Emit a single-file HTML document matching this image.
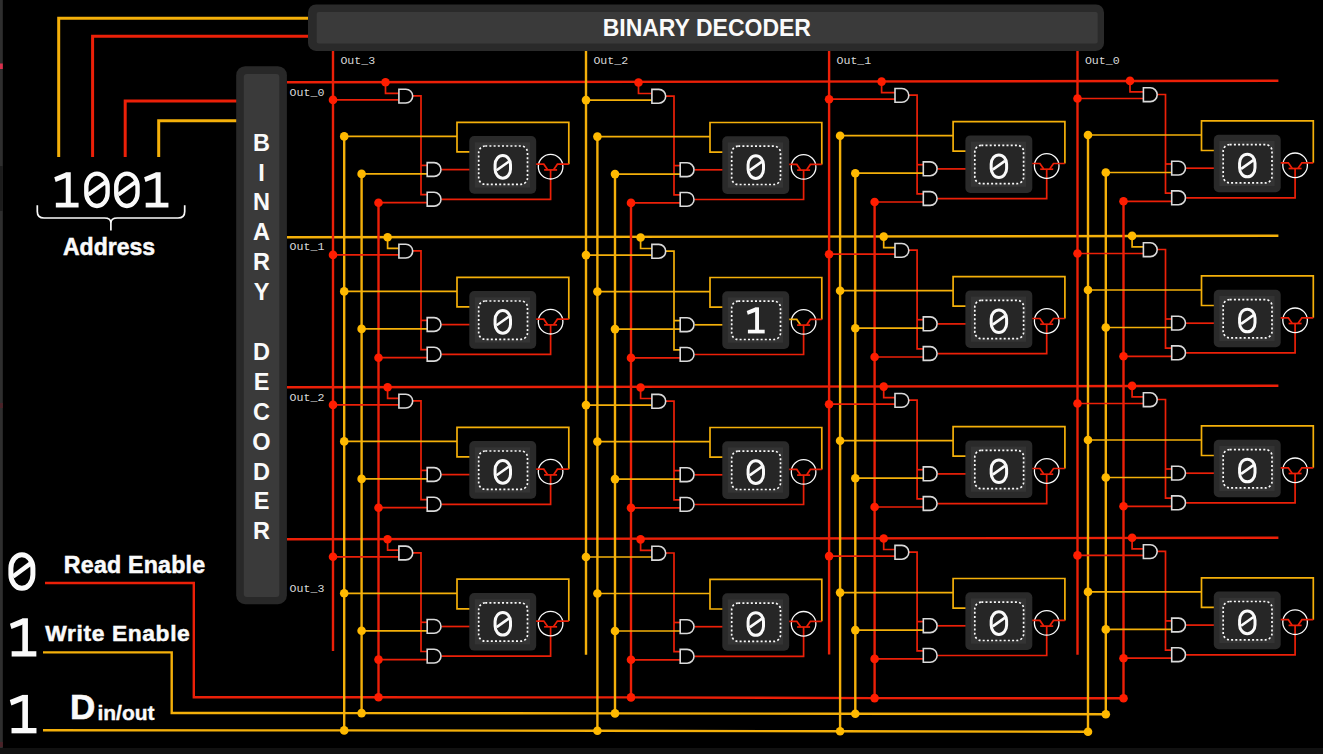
<!DOCTYPE html>
<html><head><meta charset="utf-8"><style>
html,body{margin:0;padding:0;background:#000;width:1323px;height:754px;overflow:hidden}
svg{display:block}

</style></head><body>
<svg width="1323" height="754" viewBox="0 0 1323 754">
<rect width="1323" height="754" fill="#000"/>
<rect x="0" y="0" width="2.8" height="754" fill="#2e2e2e"/>
<rect x="0" y="166" width="2.8" height="45" fill="#1c1c1c"/>
<rect x="0" y="63.5" width="2.8" height="5.5" fill="#d8304c"/>
<rect x="0" y="403" width="2.8" height="5" fill="#4a2228"/>
<rect x="0" y="742" width="2.8" height="5" fill="#4a2228"/>
<rect x="0" y="748" width="1323" height="6" fill="#111"/>
<path d="M58.70,157.00 L58.70,18.30 L310.00,18.30" fill="none" stroke="#f4b00a" stroke-width="3.0" stroke-linejoin="miter" stroke-linecap="butt"/>
<path d="M92.60,157.00 L92.60,36.20 L310.00,36.20" fill="none" stroke="#ec2008" stroke-width="3.0" stroke-linejoin="miter" stroke-linecap="butt"/>
<path d="M125.20,157.00 L125.20,101.00 L238.00,101.00" fill="none" stroke="#ec2008" stroke-width="3.0" stroke-linejoin="miter" stroke-linecap="butt"/>
<path d="M158.70,157.00 L158.70,120.70 L238.00,120.70" fill="none" stroke="#f4b00a" stroke-width="3.0" stroke-linejoin="miter" stroke-linecap="butt"/>
<path d="M45.00,583.00 L193.80,583.00 L193.80,697.20 L378.50,697.30 L631.00,697.40 L874.60,698.10 L1123.50,698.30" fill="none" stroke="#ec2008" stroke-width="2.4" stroke-linejoin="miter" stroke-linecap="butt"/>
<path d="M43.00,652.40 L171.70,652.40 L171.70,713.00 L361.60,713.10 L615.00,713.40 L855.30,713.80 L1105.80,714.20" fill="none" stroke="#f4b00a" stroke-width="2.4" stroke-linejoin="miter" stroke-linecap="butt"/>
<path d="M43.00,730.30 L344.20,730.40 L597.40,730.80 L840.10,731.30 L1088.00,731.70" fill="none" stroke="#f4b00a" stroke-width="2.4" stroke-linejoin="miter" stroke-linecap="butt"/>
<path d="M287.00,82.30 L1278.40,80.80" fill="none" stroke="#ec2008" stroke-width="2.4" stroke-linejoin="miter" stroke-linecap="butt"/>
<path d="M287.00,237.30 L1278.40,235.80" fill="none" stroke="#f4b00a" stroke-width="2.4" stroke-linejoin="miter" stroke-linecap="butt"/>
<path d="M287.00,387.30 L1278.40,385.80" fill="none" stroke="#ec2008" stroke-width="2.4" stroke-linejoin="miter" stroke-linecap="butt"/>
<path d="M287.00,539.20 L1278.40,537.70" fill="none" stroke="#ec2008" stroke-width="2.4" stroke-linejoin="miter" stroke-linecap="butt"/>
<path d="M333.00,51.00 L333.00,651.00" fill="none" stroke="#ec2008" stroke-width="2.4" stroke-linejoin="miter" stroke-linecap="butt"/>
<path d="M344.20,136.40 L344.20,730.40" fill="none" stroke="#f4b00a" stroke-width="2.4" stroke-linejoin="miter" stroke-linecap="butt"/>
<path d="M361.60,173.90 L361.60,713.10" fill="none" stroke="#f4b00a" stroke-width="2.4" stroke-linejoin="miter" stroke-linecap="butt"/>
<path d="M378.50,202.70 L378.50,697.30" fill="none" stroke="#ec2008" stroke-width="2.4" stroke-linejoin="miter" stroke-linecap="butt"/>
<circle cx="344.20" cy="730.40" r="4.3" fill="#ffb900"/>
<circle cx="361.60" cy="713.10" r="4.3" fill="#ffb900"/>
<circle cx="378.50" cy="697.30" r="4.3" fill="#ff1d00"/>
<path d="M586.00,51.00 L586.00,654.80" fill="none" stroke="#f4b00a" stroke-width="2.4" stroke-linejoin="miter" stroke-linecap="butt"/>
<path d="M597.40,136.60 L597.40,730.80" fill="none" stroke="#f4b00a" stroke-width="2.4" stroke-linejoin="miter" stroke-linecap="butt"/>
<path d="M615.00,174.10 L615.00,713.40" fill="none" stroke="#f4b00a" stroke-width="2.4" stroke-linejoin="miter" stroke-linecap="butt"/>
<path d="M631.00,202.90 L631.00,697.40" fill="none" stroke="#ec2008" stroke-width="2.4" stroke-linejoin="miter" stroke-linecap="butt"/>
<circle cx="597.40" cy="730.80" r="4.3" fill="#ffb900"/>
<circle cx="615.00" cy="713.40" r="4.3" fill="#ffb900"/>
<circle cx="631.00" cy="697.40" r="4.3" fill="#ff1d00"/>
<path d="M829.10,51.00 L829.10,654.50" fill="none" stroke="#ec2008" stroke-width="2.4" stroke-linejoin="miter" stroke-linecap="butt"/>
<path d="M840.10,135.70 L840.10,731.30" fill="none" stroke="#f4b00a" stroke-width="2.4" stroke-linejoin="miter" stroke-linecap="butt"/>
<path d="M855.30,173.20 L855.30,713.80" fill="none" stroke="#f4b00a" stroke-width="2.4" stroke-linejoin="miter" stroke-linecap="butt"/>
<path d="M874.60,202.00 L874.60,698.10" fill="none" stroke="#ec2008" stroke-width="2.4" stroke-linejoin="miter" stroke-linecap="butt"/>
<circle cx="840.10" cy="731.30" r="4.3" fill="#ffb900"/>
<circle cx="855.30" cy="713.80" r="4.3" fill="#ffb900"/>
<circle cx="874.60" cy="698.10" r="4.3" fill="#ff1d00"/>
<path d="M1077.50,51.00 L1077.50,654.70" fill="none" stroke="#ec2008" stroke-width="2.4" stroke-linejoin="miter" stroke-linecap="butt"/>
<path d="M1088.00,135.00 L1088.00,731.70" fill="none" stroke="#f4b00a" stroke-width="2.4" stroke-linejoin="miter" stroke-linecap="butt"/>
<path d="M1105.80,172.50 L1105.80,714.20" fill="none" stroke="#f4b00a" stroke-width="2.4" stroke-linejoin="miter" stroke-linecap="butt"/>
<path d="M1123.50,201.30 L1123.50,698.30" fill="none" stroke="#ec2008" stroke-width="2.4" stroke-linejoin="miter" stroke-linecap="butt"/>
<circle cx="1088.00" cy="731.70" r="4.3" fill="#ffb900"/>
<circle cx="1105.80" cy="714.20" r="4.3" fill="#ffb900"/>
<circle cx="1123.50" cy="698.30" r="4.3" fill="#ff1d00"/>
<path d="M385.50,82.30 L385.50,93.30 L398.90,93.30" fill="none" stroke="#ec2008" stroke-width="1.7" stroke-linejoin="miter" stroke-linecap="butt"/>
<path d="M333.00,99.90 L398.90,99.90" fill="none" stroke="#ec2008" stroke-width="1.7" stroke-linejoin="miter" stroke-linecap="butt"/>
<path d="M412.80,95.90 L421.00,95.90 L421.00,194.60 L427.20,194.60" fill="none" stroke="#ec2008" stroke-width="1.7" stroke-linejoin="miter" stroke-linecap="butt"/>
<path d="M421.00,165.40 L427.20,165.40" fill="none" stroke="#ec2008" stroke-width="1.7" stroke-linejoin="miter" stroke-linecap="butt"/>
<path d="M361.60,173.90 L427.20,173.90" fill="none" stroke="#f4b00a" stroke-width="1.7" stroke-linejoin="miter" stroke-linecap="butt"/>
<path d="M378.50,202.70 L427.20,202.70" fill="none" stroke="#ec2008" stroke-width="1.7" stroke-linejoin="miter" stroke-linecap="butt"/>
<path d="M441.70,169.60 L470.00,169.60" fill="none" stroke="#ec2008" stroke-width="1.7" stroke-linejoin="miter" stroke-linecap="butt"/>
<path d="M441.70,199.30 L550.60,199.30 L550.60,169.90" fill="none" stroke="#ec2008" stroke-width="1.7" stroke-linejoin="miter" stroke-linecap="butt"/>
<path d="M344.20,136.40 L457.00,136.40" fill="none" stroke="#f4b00a" stroke-width="1.7" stroke-linejoin="miter" stroke-linecap="butt"/>
<path d="M470.00,151.90 L457.00,151.90 L457.00,122.30 L568.80,122.30 L568.80,164.20" fill="none" stroke="#f4b00a" stroke-width="1.7" stroke-linejoin="miter" stroke-linecap="butt"/>
<rect x="469.30" y="136.10" width="66.9" height="57.6" rx="5" fill="#2a2a2a"/>
<rect x="474.80" y="142.30" width="55.2" height="45.2" fill="#343434"/>
<rect x="478.70" y="146.00" width="48.8" height="38.3" rx="6.5" fill="#262626" stroke="#fafafa" stroke-width="1.7" stroke-dasharray="2 2.2"/>
<rect x="495.08" y="155.60" width="15.43" height="22.60" rx="7.72" ry="9.04" fill="none" stroke="#fafafa" stroke-width="3.0"/>
<path d="M496.63,170.23 L508.97,161.52" stroke="#fafafa" stroke-width="2.70"/>
<circle cx="550.60" cy="166.70" r="12.3" fill="none" stroke="#fafafa" stroke-width="1.3"/>
<path d="M536.20,164.20 L543.80,164.20 L547.60,169.70" fill="none" stroke="#ec2008" stroke-width="1.7" stroke-linejoin="miter" stroke-linecap="butt"/>
<path d="M544.10,169.90 L557.10,169.90" fill="none" stroke="#ec2008" stroke-width="1.7" stroke-linejoin="miter" stroke-linecap="butt"/>
<path d="M553.60,169.70 L557.40,164.20 L568.80,164.20" fill="none" stroke="#ec2008" stroke-width="1.7" stroke-linejoin="miter" stroke-linecap="butt"/>
<circle cx="333.00" cy="99.90" r="4.3" fill="#ff1d00"/>
<circle cx="385.50" cy="82.30" r="4.3" fill="#ff1d00"/>
<circle cx="344.20" cy="136.40" r="4.3" fill="#ffb900"/>
<circle cx="361.60" cy="173.90" r="4.3" fill="#ffb900"/>
<circle cx="378.50" cy="202.70" r="4.3" fill="#ff1d00"/>
<path d="M398.90,89.20 H405.80 A6.9,6.9 0 0 1 405.80,103.00 H398.90 Z" fill="#000" stroke="#dadada" stroke-width="1.6"/>
<path d="M427.20,162.60 H434.10 A6.9,6.9 0 0 1 434.10,176.40 H427.20 Z" fill="#000" stroke="#dadada" stroke-width="1.6"/>
<path d="M427.20,192.30 H434.10 A6.9,6.9 0 0 1 434.10,206.10 H427.20 Z" fill="#000" stroke="#dadada" stroke-width="1.6"/>
<path d="M638.50,82.50 L638.50,93.50 L651.90,93.50" fill="none" stroke="#ec2008" stroke-width="1.7" stroke-linejoin="miter" stroke-linecap="butt"/>
<path d="M586.00,100.10 L651.90,100.10" fill="none" stroke="#f4b00a" stroke-width="1.7" stroke-linejoin="miter" stroke-linecap="butt"/>
<path d="M665.80,96.10 L674.00,96.10 L674.00,194.80 L680.20,194.80" fill="none" stroke="#ec2008" stroke-width="1.7" stroke-linejoin="miter" stroke-linecap="butt"/>
<path d="M674.00,165.60 L680.20,165.60" fill="none" stroke="#ec2008" stroke-width="1.7" stroke-linejoin="miter" stroke-linecap="butt"/>
<path d="M615.00,174.10 L680.20,174.10" fill="none" stroke="#f4b00a" stroke-width="1.7" stroke-linejoin="miter" stroke-linecap="butt"/>
<path d="M631.00,202.90 L680.20,202.90" fill="none" stroke="#ec2008" stroke-width="1.7" stroke-linejoin="miter" stroke-linecap="butt"/>
<path d="M694.70,169.80 L723.00,169.80" fill="none" stroke="#ec2008" stroke-width="1.7" stroke-linejoin="miter" stroke-linecap="butt"/>
<path d="M694.70,199.50 L803.60,199.50 L803.60,170.10" fill="none" stroke="#ec2008" stroke-width="1.7" stroke-linejoin="miter" stroke-linecap="butt"/>
<path d="M597.40,136.60 L710.00,136.60" fill="none" stroke="#f4b00a" stroke-width="1.7" stroke-linejoin="miter" stroke-linecap="butt"/>
<path d="M723.00,152.10 L710.00,152.10 L710.00,122.50 L821.80,122.50 L821.80,164.40" fill="none" stroke="#f4b00a" stroke-width="1.7" stroke-linejoin="miter" stroke-linecap="butt"/>
<rect x="722.30" y="136.30" width="66.9" height="57.6" rx="5" fill="#2a2a2a"/>
<rect x="727.80" y="142.50" width="55.2" height="45.2" fill="#343434"/>
<rect x="731.70" y="146.20" width="48.8" height="38.3" rx="6.5" fill="#262626" stroke="#fafafa" stroke-width="1.7" stroke-dasharray="2 2.2"/>
<rect x="748.08" y="155.80" width="15.43" height="22.60" rx="7.72" ry="9.04" fill="none" stroke="#fafafa" stroke-width="3.0"/>
<path d="M749.63,170.43 L761.97,161.72" stroke="#fafafa" stroke-width="2.70"/>
<circle cx="803.60" cy="166.90" r="12.3" fill="none" stroke="#fafafa" stroke-width="1.3"/>
<path d="M789.20,164.40 L796.80,164.40 L800.60,169.90" fill="none" stroke="#ec2008" stroke-width="1.7" stroke-linejoin="miter" stroke-linecap="butt"/>
<path d="M797.10,170.10 L810.10,170.10" fill="none" stroke="#ec2008" stroke-width="1.7" stroke-linejoin="miter" stroke-linecap="butt"/>
<path d="M806.60,169.90 L810.40,164.40 L821.80,164.40" fill="none" stroke="#ec2008" stroke-width="1.7" stroke-linejoin="miter" stroke-linecap="butt"/>
<circle cx="586.00" cy="100.10" r="4.3" fill="#ffb900"/>
<circle cx="638.50" cy="82.50" r="4.3" fill="#ff1d00"/>
<circle cx="597.40" cy="136.60" r="4.3" fill="#ffb900"/>
<circle cx="615.00" cy="174.10" r="4.3" fill="#ffb900"/>
<circle cx="631.00" cy="202.90" r="4.3" fill="#ff1d00"/>
<path d="M651.90,89.40 H658.80 A6.9,6.9 0 0 1 658.80,103.20 H651.90 Z" fill="#000" stroke="#dadada" stroke-width="1.6"/>
<path d="M680.20,162.80 H687.10 A6.9,6.9 0 0 1 687.10,176.60 H680.20 Z" fill="#000" stroke="#dadada" stroke-width="1.6"/>
<path d="M680.20,192.50 H687.10 A6.9,6.9 0 0 1 687.10,206.30 H680.20 Z" fill="#000" stroke="#dadada" stroke-width="1.6"/>
<path d="M881.60,81.60 L881.60,92.60 L895.00,92.60" fill="none" stroke="#ec2008" stroke-width="1.7" stroke-linejoin="miter" stroke-linecap="butt"/>
<path d="M829.10,99.20 L895.00,99.20" fill="none" stroke="#ec2008" stroke-width="1.7" stroke-linejoin="miter" stroke-linecap="butt"/>
<path d="M908.90,95.20 L917.10,95.20 L917.10,193.90 L923.30,193.90" fill="none" stroke="#ec2008" stroke-width="1.7" stroke-linejoin="miter" stroke-linecap="butt"/>
<path d="M917.10,164.70 L923.30,164.70" fill="none" stroke="#ec2008" stroke-width="1.7" stroke-linejoin="miter" stroke-linecap="butt"/>
<path d="M855.30,173.20 L923.30,173.20" fill="none" stroke="#f4b00a" stroke-width="1.7" stroke-linejoin="miter" stroke-linecap="butt"/>
<path d="M874.60,202.00 L923.30,202.00" fill="none" stroke="#ec2008" stroke-width="1.7" stroke-linejoin="miter" stroke-linecap="butt"/>
<path d="M937.80,168.90 L966.10,168.90" fill="none" stroke="#ec2008" stroke-width="1.7" stroke-linejoin="miter" stroke-linecap="butt"/>
<path d="M937.80,198.60 L1046.70,198.60 L1046.70,169.20" fill="none" stroke="#ec2008" stroke-width="1.7" stroke-linejoin="miter" stroke-linecap="butt"/>
<path d="M840.10,135.70 L953.10,135.70" fill="none" stroke="#f4b00a" stroke-width="1.7" stroke-linejoin="miter" stroke-linecap="butt"/>
<path d="M966.10,151.20 L953.10,151.20 L953.10,121.60 L1064.90,121.60 L1064.90,163.50" fill="none" stroke="#f4b00a" stroke-width="1.7" stroke-linejoin="miter" stroke-linecap="butt"/>
<rect x="965.40" y="135.40" width="66.9" height="57.6" rx="5" fill="#2a2a2a"/>
<rect x="970.90" y="141.60" width="55.2" height="45.2" fill="#343434"/>
<rect x="974.80" y="145.30" width="48.8" height="38.3" rx="6.5" fill="#262626" stroke="#fafafa" stroke-width="1.7" stroke-dasharray="2 2.2"/>
<rect x="991.18" y="154.90" width="15.43" height="22.60" rx="7.72" ry="9.04" fill="none" stroke="#fafafa" stroke-width="3.0"/>
<path d="M992.73,169.53 L1005.07,160.82" stroke="#fafafa" stroke-width="2.70"/>
<circle cx="1046.70" cy="166.00" r="12.3" fill="none" stroke="#fafafa" stroke-width="1.3"/>
<path d="M1032.30,163.50 L1039.90,163.50 L1043.70,169.00" fill="none" stroke="#ec2008" stroke-width="1.7" stroke-linejoin="miter" stroke-linecap="butt"/>
<path d="M1040.20,169.20 L1053.20,169.20" fill="none" stroke="#ec2008" stroke-width="1.7" stroke-linejoin="miter" stroke-linecap="butt"/>
<path d="M1049.70,169.00 L1053.50,163.50 L1064.90,163.50" fill="none" stroke="#ec2008" stroke-width="1.7" stroke-linejoin="miter" stroke-linecap="butt"/>
<circle cx="829.10" cy="99.20" r="4.3" fill="#ff1d00"/>
<circle cx="881.60" cy="81.60" r="4.3" fill="#ff1d00"/>
<circle cx="840.10" cy="135.70" r="4.3" fill="#ffb900"/>
<circle cx="855.30" cy="173.20" r="4.3" fill="#ffb900"/>
<circle cx="874.60" cy="202.00" r="4.3" fill="#ff1d00"/>
<path d="M895.00,88.50 H901.90 A6.9,6.9 0 0 1 901.90,102.30 H895.00 Z" fill="#000" stroke="#dadada" stroke-width="1.6"/>
<path d="M923.30,161.90 H930.20 A6.9,6.9 0 0 1 930.20,175.70 H923.30 Z" fill="#000" stroke="#dadada" stroke-width="1.6"/>
<path d="M923.30,191.60 H930.20 A6.9,6.9 0 0 1 930.20,205.40 H923.30 Z" fill="#000" stroke="#dadada" stroke-width="1.6"/>
<path d="M1130.00,80.90 L1130.00,91.90 L1143.40,91.90" fill="none" stroke="#ec2008" stroke-width="1.7" stroke-linejoin="miter" stroke-linecap="butt"/>
<path d="M1077.50,98.50 L1143.40,98.50" fill="none" stroke="#ec2008" stroke-width="1.7" stroke-linejoin="miter" stroke-linecap="butt"/>
<path d="M1157.30,94.50 L1165.50,94.50 L1165.50,193.20 L1171.70,193.20" fill="none" stroke="#ec2008" stroke-width="1.7" stroke-linejoin="miter" stroke-linecap="butt"/>
<path d="M1165.50,164.00 L1171.70,164.00" fill="none" stroke="#ec2008" stroke-width="1.7" stroke-linejoin="miter" stroke-linecap="butt"/>
<path d="M1105.80,172.50 L1171.70,172.50" fill="none" stroke="#f4b00a" stroke-width="1.7" stroke-linejoin="miter" stroke-linecap="butt"/>
<path d="M1123.50,201.30 L1171.70,201.30" fill="none" stroke="#ec2008" stroke-width="1.7" stroke-linejoin="miter" stroke-linecap="butt"/>
<path d="M1186.20,168.20 L1214.50,168.20" fill="none" stroke="#ec2008" stroke-width="1.7" stroke-linejoin="miter" stroke-linecap="butt"/>
<path d="M1186.20,197.90 L1295.10,197.90 L1295.10,168.50" fill="none" stroke="#ec2008" stroke-width="1.7" stroke-linejoin="miter" stroke-linecap="butt"/>
<path d="M1088.00,135.00 L1201.50,135.00" fill="none" stroke="#f4b00a" stroke-width="1.7" stroke-linejoin="miter" stroke-linecap="butt"/>
<path d="M1214.50,150.50 L1201.50,150.50 L1201.50,120.90 L1313.30,120.90 L1313.30,162.80" fill="none" stroke="#f4b00a" stroke-width="1.7" stroke-linejoin="miter" stroke-linecap="butt"/>
<rect x="1213.80" y="134.70" width="66.9" height="57.6" rx="5" fill="#2a2a2a"/>
<rect x="1219.30" y="140.90" width="55.2" height="45.2" fill="#343434"/>
<rect x="1223.20" y="144.60" width="48.8" height="38.3" rx="6.5" fill="#262626" stroke="#fafafa" stroke-width="1.7" stroke-dasharray="2 2.2"/>
<rect x="1239.58" y="154.20" width="15.43" height="22.60" rx="7.72" ry="9.04" fill="none" stroke="#fafafa" stroke-width="3.0"/>
<path d="M1241.13,168.83 L1253.47,160.12" stroke="#fafafa" stroke-width="2.70"/>
<circle cx="1295.10" cy="165.30" r="12.3" fill="none" stroke="#fafafa" stroke-width="1.3"/>
<path d="M1280.70,162.80 L1288.30,162.80 L1292.10,168.30" fill="none" stroke="#ec2008" stroke-width="1.7" stroke-linejoin="miter" stroke-linecap="butt"/>
<path d="M1288.60,168.50 L1301.60,168.50" fill="none" stroke="#ec2008" stroke-width="1.7" stroke-linejoin="miter" stroke-linecap="butt"/>
<path d="M1298.10,168.30 L1301.90,162.80 L1313.30,162.80" fill="none" stroke="#ec2008" stroke-width="1.7" stroke-linejoin="miter" stroke-linecap="butt"/>
<circle cx="1077.50" cy="98.50" r="4.3" fill="#ff1d00"/>
<circle cx="1130.00" cy="80.90" r="4.3" fill="#ff1d00"/>
<circle cx="1088.00" cy="135.00" r="4.3" fill="#ffb900"/>
<circle cx="1105.80" cy="172.50" r="4.3" fill="#ffb900"/>
<circle cx="1123.50" cy="201.30" r="4.3" fill="#ff1d00"/>
<path d="M1143.40,87.80 H1150.30 A6.9,6.9 0 0 1 1150.30,101.60 H1143.40 Z" fill="#000" stroke="#dadada" stroke-width="1.6"/>
<path d="M1171.70,161.20 H1178.60 A6.9,6.9 0 0 1 1178.60,175.00 H1171.70 Z" fill="#000" stroke="#dadada" stroke-width="1.6"/>
<path d="M1171.70,190.90 H1178.60 A6.9,6.9 0 0 1 1178.60,204.70 H1171.70 Z" fill="#000" stroke="#dadada" stroke-width="1.6"/>
<path d="M387.60,237.30 L387.60,248.30 L398.90,248.30" fill="none" stroke="#f4b00a" stroke-width="1.7" stroke-linejoin="miter" stroke-linecap="butt"/>
<path d="M333.00,254.90 L398.90,254.90" fill="none" stroke="#ec2008" stroke-width="1.7" stroke-linejoin="miter" stroke-linecap="butt"/>
<path d="M412.80,250.90 L421.00,250.90 L421.00,349.60 L427.20,349.60" fill="none" stroke="#ec2008" stroke-width="1.7" stroke-linejoin="miter" stroke-linecap="butt"/>
<path d="M421.00,320.40 L427.20,320.40" fill="none" stroke="#ec2008" stroke-width="1.7" stroke-linejoin="miter" stroke-linecap="butt"/>
<path d="M361.60,328.90 L427.20,328.90" fill="none" stroke="#f4b00a" stroke-width="1.7" stroke-linejoin="miter" stroke-linecap="butt"/>
<path d="M378.50,357.70 L427.20,357.70" fill="none" stroke="#ec2008" stroke-width="1.7" stroke-linejoin="miter" stroke-linecap="butt"/>
<path d="M441.70,324.60 L470.00,324.60" fill="none" stroke="#ec2008" stroke-width="1.7" stroke-linejoin="miter" stroke-linecap="butt"/>
<path d="M441.70,354.30 L550.60,354.30 L550.60,324.90" fill="none" stroke="#ec2008" stroke-width="1.7" stroke-linejoin="miter" stroke-linecap="butt"/>
<path d="M344.20,291.40 L457.00,291.40" fill="none" stroke="#f4b00a" stroke-width="1.7" stroke-linejoin="miter" stroke-linecap="butt"/>
<path d="M470.00,306.90 L457.00,306.90 L457.00,277.30 L568.80,277.30 L568.80,319.20" fill="none" stroke="#f4b00a" stroke-width="1.7" stroke-linejoin="miter" stroke-linecap="butt"/>
<rect x="469.30" y="291.10" width="66.9" height="57.6" rx="5" fill="#2a2a2a"/>
<rect x="474.80" y="297.30" width="55.2" height="45.2" fill="#343434"/>
<rect x="478.70" y="301.00" width="48.8" height="38.3" rx="6.5" fill="#262626" stroke="#fafafa" stroke-width="1.7" stroke-dasharray="2 2.2"/>
<rect x="495.08" y="310.60" width="15.43" height="22.60" rx="7.72" ry="9.04" fill="none" stroke="#fafafa" stroke-width="3.0"/>
<path d="M496.63,325.23 L508.97,316.52" stroke="#fafafa" stroke-width="2.70"/>
<circle cx="550.60" cy="321.70" r="12.3" fill="none" stroke="#fafafa" stroke-width="1.3"/>
<path d="M536.20,319.20 L543.80,319.20 L547.60,324.70" fill="none" stroke="#ec2008" stroke-width="1.7" stroke-linejoin="miter" stroke-linecap="butt"/>
<path d="M544.10,324.90 L557.10,324.90" fill="none" stroke="#ec2008" stroke-width="1.7" stroke-linejoin="miter" stroke-linecap="butt"/>
<path d="M553.60,324.70 L557.40,319.20 L568.80,319.20" fill="none" stroke="#ec2008" stroke-width="1.7" stroke-linejoin="miter" stroke-linecap="butt"/>
<circle cx="333.00" cy="254.90" r="4.3" fill="#ff1d00"/>
<circle cx="387.60" cy="237.30" r="4.3" fill="#ffb900"/>
<circle cx="344.20" cy="291.40" r="4.3" fill="#ffb900"/>
<circle cx="361.60" cy="328.90" r="4.3" fill="#ffb900"/>
<circle cx="378.50" cy="357.70" r="4.3" fill="#ff1d00"/>
<path d="M398.90,244.20 H405.80 A6.9,6.9 0 0 1 405.80,258.00 H398.90 Z" fill="#000" stroke="#dadada" stroke-width="1.6"/>
<path d="M427.20,317.60 H434.10 A6.9,6.9 0 0 1 434.10,331.40 H427.20 Z" fill="#000" stroke="#dadada" stroke-width="1.6"/>
<path d="M427.20,347.30 H434.10 A6.9,6.9 0 0 1 434.10,361.10 H427.20 Z" fill="#000" stroke="#dadada" stroke-width="1.6"/>
<path d="M640.60,237.50 L640.60,248.50 L651.90,248.50" fill="none" stroke="#f4b00a" stroke-width="1.7" stroke-linejoin="miter" stroke-linecap="butt"/>
<path d="M586.00,255.10 L651.90,255.10" fill="none" stroke="#f4b00a" stroke-width="1.7" stroke-linejoin="miter" stroke-linecap="butt"/>
<path d="M665.80,251.10 L674.00,251.10 L674.00,349.80 L680.20,349.80" fill="none" stroke="#f4b00a" stroke-width="1.7" stroke-linejoin="miter" stroke-linecap="butt"/>
<path d="M674.00,320.60 L680.20,320.60" fill="none" stroke="#f4b00a" stroke-width="1.7" stroke-linejoin="miter" stroke-linecap="butt"/>
<path d="M615.00,329.10 L680.20,329.10" fill="none" stroke="#f4b00a" stroke-width="1.7" stroke-linejoin="miter" stroke-linecap="butt"/>
<path d="M631.00,357.90 L680.20,357.90" fill="none" stroke="#ec2008" stroke-width="1.7" stroke-linejoin="miter" stroke-linecap="butt"/>
<path d="M694.70,324.80 L723.00,324.80" fill="none" stroke="#f4b00a" stroke-width="1.7" stroke-linejoin="miter" stroke-linecap="butt"/>
<path d="M694.70,354.50 L803.60,354.50 L803.60,325.10" fill="none" stroke="#ec2008" stroke-width="1.7" stroke-linejoin="miter" stroke-linecap="butt"/>
<path d="M597.40,291.60 L710.00,291.60" fill="none" stroke="#f4b00a" stroke-width="1.7" stroke-linejoin="miter" stroke-linecap="butt"/>
<path d="M723.00,307.10 L710.00,307.10 L710.00,277.50 L821.80,277.50 L821.80,319.40" fill="none" stroke="#f4b00a" stroke-width="1.7" stroke-linejoin="miter" stroke-linecap="butt"/>
<rect x="722.30" y="291.30" width="66.9" height="57.6" rx="5" fill="#2a2a2a"/>
<rect x="727.80" y="297.50" width="55.2" height="45.2" fill="#343434"/>
<rect x="731.70" y="301.20" width="48.8" height="38.3" rx="6.5" fill="#262626" stroke="#fafafa" stroke-width="1.7" stroke-dasharray="2 2.2"/>
<path d="M747.91,331.57 H764.68" stroke="#fafafa" stroke-width="3.70"/>
<path d="M757.07,307.60 V331.45" stroke="#fafafa" stroke-width="3.90"/>
<path d="M759.02,307.60 L755.12,307.60 L746.75,311.08 L747.79,314.79 L755.12,311.89 Z" fill="#fafafa"/>
<circle cx="803.60" cy="321.90" r="12.3" fill="none" stroke="#fafafa" stroke-width="1.3"/>
<path d="M789.20,319.40 L796.80,319.40 L800.60,324.90" fill="none" stroke="#f4b00a" stroke-width="1.7" stroke-linejoin="miter" stroke-linecap="butt"/>
<path d="M797.10,325.10 L810.10,325.10" fill="none" stroke="#ec2008" stroke-width="1.7" stroke-linejoin="miter" stroke-linecap="butt"/>
<path d="M806.60,324.90 L810.40,319.40 L821.80,319.40" fill="none" stroke="#ec2008" stroke-width="1.7" stroke-linejoin="miter" stroke-linecap="butt"/>
<circle cx="586.00" cy="255.10" r="4.3" fill="#ffb900"/>
<circle cx="640.60" cy="237.50" r="4.3" fill="#ffb900"/>
<circle cx="597.40" cy="291.60" r="4.3" fill="#ffb900"/>
<circle cx="615.00" cy="329.10" r="4.3" fill="#ffb900"/>
<circle cx="631.00" cy="357.90" r="4.3" fill="#ff1d00"/>
<path d="M651.90,244.40 H658.80 A6.9,6.9 0 0 1 658.80,258.20 H651.90 Z" fill="#000" stroke="#dadada" stroke-width="1.6"/>
<path d="M680.20,317.80 H687.10 A6.9,6.9 0 0 1 687.10,331.60 H680.20 Z" fill="#000" stroke="#dadada" stroke-width="1.6"/>
<path d="M680.20,347.50 H687.10 A6.9,6.9 0 0 1 687.10,361.30 H680.20 Z" fill="#000" stroke="#dadada" stroke-width="1.6"/>
<path d="M883.70,236.60 L883.70,247.60 L895.00,247.60" fill="none" stroke="#f4b00a" stroke-width="1.7" stroke-linejoin="miter" stroke-linecap="butt"/>
<path d="M829.10,254.20 L895.00,254.20" fill="none" stroke="#ec2008" stroke-width="1.7" stroke-linejoin="miter" stroke-linecap="butt"/>
<path d="M908.90,250.20 L917.10,250.20 L917.10,348.90 L923.30,348.90" fill="none" stroke="#ec2008" stroke-width="1.7" stroke-linejoin="miter" stroke-linecap="butt"/>
<path d="M917.10,319.70 L923.30,319.70" fill="none" stroke="#ec2008" stroke-width="1.7" stroke-linejoin="miter" stroke-linecap="butt"/>
<path d="M855.30,328.20 L923.30,328.20" fill="none" stroke="#f4b00a" stroke-width="1.7" stroke-linejoin="miter" stroke-linecap="butt"/>
<path d="M874.60,357.00 L923.30,357.00" fill="none" stroke="#ec2008" stroke-width="1.7" stroke-linejoin="miter" stroke-linecap="butt"/>
<path d="M937.80,323.90 L966.10,323.90" fill="none" stroke="#ec2008" stroke-width="1.7" stroke-linejoin="miter" stroke-linecap="butt"/>
<path d="M937.80,353.60 L1046.70,353.60 L1046.70,324.20" fill="none" stroke="#ec2008" stroke-width="1.7" stroke-linejoin="miter" stroke-linecap="butt"/>
<path d="M840.10,290.70 L953.10,290.70" fill="none" stroke="#f4b00a" stroke-width="1.7" stroke-linejoin="miter" stroke-linecap="butt"/>
<path d="M966.10,306.20 L953.10,306.20 L953.10,276.60 L1064.90,276.60 L1064.90,318.50" fill="none" stroke="#f4b00a" stroke-width="1.7" stroke-linejoin="miter" stroke-linecap="butt"/>
<rect x="965.40" y="290.40" width="66.9" height="57.6" rx="5" fill="#2a2a2a"/>
<rect x="970.90" y="296.60" width="55.2" height="45.2" fill="#343434"/>
<rect x="974.80" y="300.30" width="48.8" height="38.3" rx="6.5" fill="#262626" stroke="#fafafa" stroke-width="1.7" stroke-dasharray="2 2.2"/>
<rect x="991.18" y="309.90" width="15.43" height="22.60" rx="7.72" ry="9.04" fill="none" stroke="#fafafa" stroke-width="3.0"/>
<path d="M992.73,324.53 L1005.07,315.82" stroke="#fafafa" stroke-width="2.70"/>
<circle cx="1046.70" cy="321.00" r="12.3" fill="none" stroke="#fafafa" stroke-width="1.3"/>
<path d="M1032.30,318.50 L1039.90,318.50 L1043.70,324.00" fill="none" stroke="#ec2008" stroke-width="1.7" stroke-linejoin="miter" stroke-linecap="butt"/>
<path d="M1040.20,324.20 L1053.20,324.20" fill="none" stroke="#ec2008" stroke-width="1.7" stroke-linejoin="miter" stroke-linecap="butt"/>
<path d="M1049.70,324.00 L1053.50,318.50 L1064.90,318.50" fill="none" stroke="#ec2008" stroke-width="1.7" stroke-linejoin="miter" stroke-linecap="butt"/>
<circle cx="829.10" cy="254.20" r="4.3" fill="#ff1d00"/>
<circle cx="883.70" cy="236.60" r="4.3" fill="#ffb900"/>
<circle cx="840.10" cy="290.70" r="4.3" fill="#ffb900"/>
<circle cx="855.30" cy="328.20" r="4.3" fill="#ffb900"/>
<circle cx="874.60" cy="357.00" r="4.3" fill="#ff1d00"/>
<path d="M895.00,243.50 H901.90 A6.9,6.9 0 0 1 901.90,257.30 H895.00 Z" fill="#000" stroke="#dadada" stroke-width="1.6"/>
<path d="M923.30,316.90 H930.20 A6.9,6.9 0 0 1 930.20,330.70 H923.30 Z" fill="#000" stroke="#dadada" stroke-width="1.6"/>
<path d="M923.30,346.60 H930.20 A6.9,6.9 0 0 1 930.20,360.40 H923.30 Z" fill="#000" stroke="#dadada" stroke-width="1.6"/>
<path d="M1132.10,235.90 L1132.10,246.90 L1143.40,246.90" fill="none" stroke="#f4b00a" stroke-width="1.7" stroke-linejoin="miter" stroke-linecap="butt"/>
<path d="M1077.50,253.50 L1143.40,253.50" fill="none" stroke="#ec2008" stroke-width="1.7" stroke-linejoin="miter" stroke-linecap="butt"/>
<path d="M1157.30,249.50 L1165.50,249.50 L1165.50,348.20 L1171.70,348.20" fill="none" stroke="#ec2008" stroke-width="1.7" stroke-linejoin="miter" stroke-linecap="butt"/>
<path d="M1165.50,319.00 L1171.70,319.00" fill="none" stroke="#ec2008" stroke-width="1.7" stroke-linejoin="miter" stroke-linecap="butt"/>
<path d="M1105.80,327.50 L1171.70,327.50" fill="none" stroke="#f4b00a" stroke-width="1.7" stroke-linejoin="miter" stroke-linecap="butt"/>
<path d="M1123.50,356.30 L1171.70,356.30" fill="none" stroke="#ec2008" stroke-width="1.7" stroke-linejoin="miter" stroke-linecap="butt"/>
<path d="M1186.20,323.20 L1214.50,323.20" fill="none" stroke="#ec2008" stroke-width="1.7" stroke-linejoin="miter" stroke-linecap="butt"/>
<path d="M1186.20,352.90 L1295.10,352.90 L1295.10,323.50" fill="none" stroke="#ec2008" stroke-width="1.7" stroke-linejoin="miter" stroke-linecap="butt"/>
<path d="M1088.00,290.00 L1201.50,290.00" fill="none" stroke="#f4b00a" stroke-width="1.7" stroke-linejoin="miter" stroke-linecap="butt"/>
<path d="M1214.50,305.50 L1201.50,305.50 L1201.50,275.90 L1313.30,275.90 L1313.30,317.80" fill="none" stroke="#f4b00a" stroke-width="1.7" stroke-linejoin="miter" stroke-linecap="butt"/>
<rect x="1213.80" y="289.70" width="66.9" height="57.6" rx="5" fill="#2a2a2a"/>
<rect x="1219.30" y="295.90" width="55.2" height="45.2" fill="#343434"/>
<rect x="1223.20" y="299.60" width="48.8" height="38.3" rx="6.5" fill="#262626" stroke="#fafafa" stroke-width="1.7" stroke-dasharray="2 2.2"/>
<rect x="1239.58" y="309.20" width="15.43" height="22.60" rx="7.72" ry="9.04" fill="none" stroke="#fafafa" stroke-width="3.0"/>
<path d="M1241.13,323.83 L1253.47,315.12" stroke="#fafafa" stroke-width="2.70"/>
<circle cx="1295.10" cy="320.30" r="12.3" fill="none" stroke="#fafafa" stroke-width="1.3"/>
<path d="M1280.70,317.80 L1288.30,317.80 L1292.10,323.30" fill="none" stroke="#ec2008" stroke-width="1.7" stroke-linejoin="miter" stroke-linecap="butt"/>
<path d="M1288.60,323.50 L1301.60,323.50" fill="none" stroke="#ec2008" stroke-width="1.7" stroke-linejoin="miter" stroke-linecap="butt"/>
<path d="M1298.10,323.30 L1301.90,317.80 L1313.30,317.80" fill="none" stroke="#ec2008" stroke-width="1.7" stroke-linejoin="miter" stroke-linecap="butt"/>
<circle cx="1077.50" cy="253.50" r="4.3" fill="#ff1d00"/>
<circle cx="1132.10" cy="235.90" r="4.3" fill="#ffb900"/>
<circle cx="1088.00" cy="290.00" r="4.3" fill="#ffb900"/>
<circle cx="1105.80" cy="327.50" r="4.3" fill="#ffb900"/>
<circle cx="1123.50" cy="356.30" r="4.3" fill="#ff1d00"/>
<path d="M1143.40,242.80 H1150.30 A6.9,6.9 0 0 1 1150.30,256.60 H1143.40 Z" fill="#000" stroke="#dadada" stroke-width="1.6"/>
<path d="M1171.70,316.20 H1178.60 A6.9,6.9 0 0 1 1178.60,330.00 H1171.70 Z" fill="#000" stroke="#dadada" stroke-width="1.6"/>
<path d="M1171.70,345.90 H1178.60 A6.9,6.9 0 0 1 1178.60,359.70 H1171.70 Z" fill="#000" stroke="#dadada" stroke-width="1.6"/>
<path d="M387.60,387.30 L387.60,398.30 L398.90,398.30" fill="none" stroke="#ec2008" stroke-width="1.7" stroke-linejoin="miter" stroke-linecap="butt"/>
<path d="M333.00,404.90 L398.90,404.90" fill="none" stroke="#ec2008" stroke-width="1.7" stroke-linejoin="miter" stroke-linecap="butt"/>
<path d="M412.80,400.90 L421.00,400.90 L421.00,499.60 L427.20,499.60" fill="none" stroke="#ec2008" stroke-width="1.7" stroke-linejoin="miter" stroke-linecap="butt"/>
<path d="M421.00,470.40 L427.20,470.40" fill="none" stroke="#ec2008" stroke-width="1.7" stroke-linejoin="miter" stroke-linecap="butt"/>
<path d="M361.60,478.90 L427.20,478.90" fill="none" stroke="#f4b00a" stroke-width="1.7" stroke-linejoin="miter" stroke-linecap="butt"/>
<path d="M378.50,507.70 L427.20,507.70" fill="none" stroke="#ec2008" stroke-width="1.7" stroke-linejoin="miter" stroke-linecap="butt"/>
<path d="M441.70,474.60 L470.00,474.60" fill="none" stroke="#ec2008" stroke-width="1.7" stroke-linejoin="miter" stroke-linecap="butt"/>
<path d="M441.70,504.30 L550.60,504.30 L550.60,474.90" fill="none" stroke="#ec2008" stroke-width="1.7" stroke-linejoin="miter" stroke-linecap="butt"/>
<path d="M344.20,441.40 L457.00,441.40" fill="none" stroke="#f4b00a" stroke-width="1.7" stroke-linejoin="miter" stroke-linecap="butt"/>
<path d="M470.00,456.90 L457.00,456.90 L457.00,427.30 L568.80,427.30 L568.80,469.20" fill="none" stroke="#f4b00a" stroke-width="1.7" stroke-linejoin="miter" stroke-linecap="butt"/>
<rect x="469.30" y="441.10" width="66.9" height="57.6" rx="5" fill="#2a2a2a"/>
<rect x="474.80" y="447.30" width="55.2" height="45.2" fill="#343434"/>
<rect x="478.70" y="451.00" width="48.8" height="38.3" rx="6.5" fill="#262626" stroke="#fafafa" stroke-width="1.7" stroke-dasharray="2 2.2"/>
<rect x="495.08" y="460.60" width="15.43" height="22.60" rx="7.72" ry="9.04" fill="none" stroke="#fafafa" stroke-width="3.0"/>
<path d="M496.63,475.23 L508.97,466.52" stroke="#fafafa" stroke-width="2.70"/>
<circle cx="550.60" cy="471.70" r="12.3" fill="none" stroke="#fafafa" stroke-width="1.3"/>
<path d="M536.20,469.20 L543.80,469.20 L547.60,474.70" fill="none" stroke="#ec2008" stroke-width="1.7" stroke-linejoin="miter" stroke-linecap="butt"/>
<path d="M544.10,474.90 L557.10,474.90" fill="none" stroke="#ec2008" stroke-width="1.7" stroke-linejoin="miter" stroke-linecap="butt"/>
<path d="M553.60,474.70 L557.40,469.20 L568.80,469.20" fill="none" stroke="#ec2008" stroke-width="1.7" stroke-linejoin="miter" stroke-linecap="butt"/>
<circle cx="333.00" cy="404.90" r="4.3" fill="#ff1d00"/>
<circle cx="387.60" cy="387.30" r="4.3" fill="#ff1d00"/>
<circle cx="344.20" cy="441.40" r="4.3" fill="#ffb900"/>
<circle cx="361.60" cy="478.90" r="4.3" fill="#ffb900"/>
<circle cx="378.50" cy="507.70" r="4.3" fill="#ff1d00"/>
<path d="M398.90,394.20 H405.80 A6.9,6.9 0 0 1 405.80,408.00 H398.90 Z" fill="#000" stroke="#dadada" stroke-width="1.6"/>
<path d="M427.20,467.60 H434.10 A6.9,6.9 0 0 1 434.10,481.40 H427.20 Z" fill="#000" stroke="#dadada" stroke-width="1.6"/>
<path d="M427.20,497.30 H434.10 A6.9,6.9 0 0 1 434.10,511.10 H427.20 Z" fill="#000" stroke="#dadada" stroke-width="1.6"/>
<path d="M640.60,387.50 L640.60,398.50 L651.90,398.50" fill="none" stroke="#ec2008" stroke-width="1.7" stroke-linejoin="miter" stroke-linecap="butt"/>
<path d="M586.00,405.10 L651.90,405.10" fill="none" stroke="#f4b00a" stroke-width="1.7" stroke-linejoin="miter" stroke-linecap="butt"/>
<path d="M665.80,401.10 L674.00,401.10 L674.00,499.80 L680.20,499.80" fill="none" stroke="#ec2008" stroke-width="1.7" stroke-linejoin="miter" stroke-linecap="butt"/>
<path d="M674.00,470.60 L680.20,470.60" fill="none" stroke="#ec2008" stroke-width="1.7" stroke-linejoin="miter" stroke-linecap="butt"/>
<path d="M615.00,479.10 L680.20,479.10" fill="none" stroke="#f4b00a" stroke-width="1.7" stroke-linejoin="miter" stroke-linecap="butt"/>
<path d="M631.00,507.90 L680.20,507.90" fill="none" stroke="#ec2008" stroke-width="1.7" stroke-linejoin="miter" stroke-linecap="butt"/>
<path d="M694.70,474.80 L723.00,474.80" fill="none" stroke="#ec2008" stroke-width="1.7" stroke-linejoin="miter" stroke-linecap="butt"/>
<path d="M694.70,504.50 L803.60,504.50 L803.60,475.10" fill="none" stroke="#ec2008" stroke-width="1.7" stroke-linejoin="miter" stroke-linecap="butt"/>
<path d="M597.40,441.60 L710.00,441.60" fill="none" stroke="#f4b00a" stroke-width="1.7" stroke-linejoin="miter" stroke-linecap="butt"/>
<path d="M723.00,457.10 L710.00,457.10 L710.00,427.50 L821.80,427.50 L821.80,469.40" fill="none" stroke="#f4b00a" stroke-width="1.7" stroke-linejoin="miter" stroke-linecap="butt"/>
<rect x="722.30" y="441.30" width="66.9" height="57.6" rx="5" fill="#2a2a2a"/>
<rect x="727.80" y="447.50" width="55.2" height="45.2" fill="#343434"/>
<rect x="731.70" y="451.20" width="48.8" height="38.3" rx="6.5" fill="#262626" stroke="#fafafa" stroke-width="1.7" stroke-dasharray="2 2.2"/>
<rect x="748.08" y="460.80" width="15.43" height="22.60" rx="7.72" ry="9.04" fill="none" stroke="#fafafa" stroke-width="3.0"/>
<path d="M749.63,475.43 L761.97,466.72" stroke="#fafafa" stroke-width="2.70"/>
<circle cx="803.60" cy="471.90" r="12.3" fill="none" stroke="#fafafa" stroke-width="1.3"/>
<path d="M789.20,469.40 L796.80,469.40 L800.60,474.90" fill="none" stroke="#ec2008" stroke-width="1.7" stroke-linejoin="miter" stroke-linecap="butt"/>
<path d="M797.10,475.10 L810.10,475.10" fill="none" stroke="#ec2008" stroke-width="1.7" stroke-linejoin="miter" stroke-linecap="butt"/>
<path d="M806.60,474.90 L810.40,469.40 L821.80,469.40" fill="none" stroke="#ec2008" stroke-width="1.7" stroke-linejoin="miter" stroke-linecap="butt"/>
<circle cx="586.00" cy="405.10" r="4.3" fill="#ffb900"/>
<circle cx="640.60" cy="387.50" r="4.3" fill="#ff1d00"/>
<circle cx="597.40" cy="441.60" r="4.3" fill="#ffb900"/>
<circle cx="615.00" cy="479.10" r="4.3" fill="#ffb900"/>
<circle cx="631.00" cy="507.90" r="4.3" fill="#ff1d00"/>
<path d="M651.90,394.40 H658.80 A6.9,6.9 0 0 1 658.80,408.20 H651.90 Z" fill="#000" stroke="#dadada" stroke-width="1.6"/>
<path d="M680.20,467.80 H687.10 A6.9,6.9 0 0 1 687.10,481.60 H680.20 Z" fill="#000" stroke="#dadada" stroke-width="1.6"/>
<path d="M680.20,497.50 H687.10 A6.9,6.9 0 0 1 687.10,511.30 H680.20 Z" fill="#000" stroke="#dadada" stroke-width="1.6"/>
<path d="M883.70,386.60 L883.70,397.60 L895.00,397.60" fill="none" stroke="#ec2008" stroke-width="1.7" stroke-linejoin="miter" stroke-linecap="butt"/>
<path d="M829.10,404.20 L895.00,404.20" fill="none" stroke="#ec2008" stroke-width="1.7" stroke-linejoin="miter" stroke-linecap="butt"/>
<path d="M908.90,400.20 L917.10,400.20 L917.10,498.90 L923.30,498.90" fill="none" stroke="#ec2008" stroke-width="1.7" stroke-linejoin="miter" stroke-linecap="butt"/>
<path d="M917.10,469.70 L923.30,469.70" fill="none" stroke="#ec2008" stroke-width="1.7" stroke-linejoin="miter" stroke-linecap="butt"/>
<path d="M855.30,478.20 L923.30,478.20" fill="none" stroke="#f4b00a" stroke-width="1.7" stroke-linejoin="miter" stroke-linecap="butt"/>
<path d="M874.60,507.00 L923.30,507.00" fill="none" stroke="#ec2008" stroke-width="1.7" stroke-linejoin="miter" stroke-linecap="butt"/>
<path d="M937.80,473.90 L966.10,473.90" fill="none" stroke="#ec2008" stroke-width="1.7" stroke-linejoin="miter" stroke-linecap="butt"/>
<path d="M937.80,503.60 L1046.70,503.60 L1046.70,474.20" fill="none" stroke="#ec2008" stroke-width="1.7" stroke-linejoin="miter" stroke-linecap="butt"/>
<path d="M840.10,440.70 L953.10,440.70" fill="none" stroke="#f4b00a" stroke-width="1.7" stroke-linejoin="miter" stroke-linecap="butt"/>
<path d="M966.10,456.20 L953.10,456.20 L953.10,426.60 L1064.90,426.60 L1064.90,468.50" fill="none" stroke="#f4b00a" stroke-width="1.7" stroke-linejoin="miter" stroke-linecap="butt"/>
<rect x="965.40" y="440.40" width="66.9" height="57.6" rx="5" fill="#2a2a2a"/>
<rect x="970.90" y="446.60" width="55.2" height="45.2" fill="#343434"/>
<rect x="974.80" y="450.30" width="48.8" height="38.3" rx="6.5" fill="#262626" stroke="#fafafa" stroke-width="1.7" stroke-dasharray="2 2.2"/>
<rect x="991.18" y="459.90" width="15.43" height="22.60" rx="7.72" ry="9.04" fill="none" stroke="#fafafa" stroke-width="3.0"/>
<path d="M992.73,474.53 L1005.07,465.82" stroke="#fafafa" stroke-width="2.70"/>
<circle cx="1046.70" cy="471.00" r="12.3" fill="none" stroke="#fafafa" stroke-width="1.3"/>
<path d="M1032.30,468.50 L1039.90,468.50 L1043.70,474.00" fill="none" stroke="#ec2008" stroke-width="1.7" stroke-linejoin="miter" stroke-linecap="butt"/>
<path d="M1040.20,474.20 L1053.20,474.20" fill="none" stroke="#ec2008" stroke-width="1.7" stroke-linejoin="miter" stroke-linecap="butt"/>
<path d="M1049.70,474.00 L1053.50,468.50 L1064.90,468.50" fill="none" stroke="#ec2008" stroke-width="1.7" stroke-linejoin="miter" stroke-linecap="butt"/>
<circle cx="829.10" cy="404.20" r="4.3" fill="#ff1d00"/>
<circle cx="883.70" cy="386.60" r="4.3" fill="#ff1d00"/>
<circle cx="840.10" cy="440.70" r="4.3" fill="#ffb900"/>
<circle cx="855.30" cy="478.20" r="4.3" fill="#ffb900"/>
<circle cx="874.60" cy="507.00" r="4.3" fill="#ff1d00"/>
<path d="M895.00,393.50 H901.90 A6.9,6.9 0 0 1 901.90,407.30 H895.00 Z" fill="#000" stroke="#dadada" stroke-width="1.6"/>
<path d="M923.30,466.90 H930.20 A6.9,6.9 0 0 1 930.20,480.70 H923.30 Z" fill="#000" stroke="#dadada" stroke-width="1.6"/>
<path d="M923.30,496.60 H930.20 A6.9,6.9 0 0 1 930.20,510.40 H923.30 Z" fill="#000" stroke="#dadada" stroke-width="1.6"/>
<path d="M1132.10,385.90 L1132.10,396.90 L1143.40,396.90" fill="none" stroke="#ec2008" stroke-width="1.7" stroke-linejoin="miter" stroke-linecap="butt"/>
<path d="M1077.50,403.50 L1143.40,403.50" fill="none" stroke="#ec2008" stroke-width="1.7" stroke-linejoin="miter" stroke-linecap="butt"/>
<path d="M1157.30,399.50 L1165.50,399.50 L1165.50,498.20 L1171.70,498.20" fill="none" stroke="#ec2008" stroke-width="1.7" stroke-linejoin="miter" stroke-linecap="butt"/>
<path d="M1165.50,469.00 L1171.70,469.00" fill="none" stroke="#ec2008" stroke-width="1.7" stroke-linejoin="miter" stroke-linecap="butt"/>
<path d="M1105.80,477.50 L1171.70,477.50" fill="none" stroke="#f4b00a" stroke-width="1.7" stroke-linejoin="miter" stroke-linecap="butt"/>
<path d="M1123.50,506.30 L1171.70,506.30" fill="none" stroke="#ec2008" stroke-width="1.7" stroke-linejoin="miter" stroke-linecap="butt"/>
<path d="M1186.20,473.20 L1214.50,473.20" fill="none" stroke="#ec2008" stroke-width="1.7" stroke-linejoin="miter" stroke-linecap="butt"/>
<path d="M1186.20,502.90 L1295.10,502.90 L1295.10,473.50" fill="none" stroke="#ec2008" stroke-width="1.7" stroke-linejoin="miter" stroke-linecap="butt"/>
<path d="M1088.00,440.00 L1201.50,440.00" fill="none" stroke="#f4b00a" stroke-width="1.7" stroke-linejoin="miter" stroke-linecap="butt"/>
<path d="M1214.50,455.50 L1201.50,455.50 L1201.50,425.90 L1313.30,425.90 L1313.30,467.80" fill="none" stroke="#f4b00a" stroke-width="1.7" stroke-linejoin="miter" stroke-linecap="butt"/>
<rect x="1213.80" y="439.70" width="66.9" height="57.6" rx="5" fill="#2a2a2a"/>
<rect x="1219.30" y="445.90" width="55.2" height="45.2" fill="#343434"/>
<rect x="1223.20" y="449.60" width="48.8" height="38.3" rx="6.5" fill="#262626" stroke="#fafafa" stroke-width="1.7" stroke-dasharray="2 2.2"/>
<rect x="1239.58" y="459.20" width="15.43" height="22.60" rx="7.72" ry="9.04" fill="none" stroke="#fafafa" stroke-width="3.0"/>
<path d="M1241.13,473.83 L1253.47,465.12" stroke="#fafafa" stroke-width="2.70"/>
<circle cx="1295.10" cy="470.30" r="12.3" fill="none" stroke="#fafafa" stroke-width="1.3"/>
<path d="M1280.70,467.80 L1288.30,467.80 L1292.10,473.30" fill="none" stroke="#ec2008" stroke-width="1.7" stroke-linejoin="miter" stroke-linecap="butt"/>
<path d="M1288.60,473.50 L1301.60,473.50" fill="none" stroke="#ec2008" stroke-width="1.7" stroke-linejoin="miter" stroke-linecap="butt"/>
<path d="M1298.10,473.30 L1301.90,467.80 L1313.30,467.80" fill="none" stroke="#ec2008" stroke-width="1.7" stroke-linejoin="miter" stroke-linecap="butt"/>
<circle cx="1077.50" cy="403.50" r="4.3" fill="#ff1d00"/>
<circle cx="1132.10" cy="385.90" r="4.3" fill="#ff1d00"/>
<circle cx="1088.00" cy="440.00" r="4.3" fill="#ffb900"/>
<circle cx="1105.80" cy="477.50" r="4.3" fill="#ffb900"/>
<circle cx="1123.50" cy="506.30" r="4.3" fill="#ff1d00"/>
<path d="M1143.40,392.80 H1150.30 A6.9,6.9 0 0 1 1150.30,406.60 H1143.40 Z" fill="#000" stroke="#dadada" stroke-width="1.6"/>
<path d="M1171.70,466.20 H1178.60 A6.9,6.9 0 0 1 1178.60,480.00 H1171.70 Z" fill="#000" stroke="#dadada" stroke-width="1.6"/>
<path d="M1171.70,495.90 H1178.60 A6.9,6.9 0 0 1 1178.60,509.70 H1171.70 Z" fill="#000" stroke="#dadada" stroke-width="1.6"/>
<path d="M387.60,539.20 L387.60,550.20 L398.90,550.20" fill="none" stroke="#ec2008" stroke-width="1.7" stroke-linejoin="miter" stroke-linecap="butt"/>
<path d="M333.00,556.80 L398.90,556.80" fill="none" stroke="#ec2008" stroke-width="1.7" stroke-linejoin="miter" stroke-linecap="butt"/>
<path d="M412.80,552.80 L421.00,552.80 L421.00,651.50 L427.20,651.50" fill="none" stroke="#ec2008" stroke-width="1.7" stroke-linejoin="miter" stroke-linecap="butt"/>
<path d="M421.00,622.30 L427.20,622.30" fill="none" stroke="#ec2008" stroke-width="1.7" stroke-linejoin="miter" stroke-linecap="butt"/>
<path d="M361.60,630.80 L427.20,630.80" fill="none" stroke="#f4b00a" stroke-width="1.7" stroke-linejoin="miter" stroke-linecap="butt"/>
<path d="M378.50,659.60 L427.20,659.60" fill="none" stroke="#ec2008" stroke-width="1.7" stroke-linejoin="miter" stroke-linecap="butt"/>
<path d="M441.70,626.50 L470.00,626.50" fill="none" stroke="#ec2008" stroke-width="1.7" stroke-linejoin="miter" stroke-linecap="butt"/>
<path d="M441.70,656.20 L550.60,656.20 L550.60,626.80" fill="none" stroke="#ec2008" stroke-width="1.7" stroke-linejoin="miter" stroke-linecap="butt"/>
<path d="M344.20,593.30 L457.00,593.30" fill="none" stroke="#f4b00a" stroke-width="1.7" stroke-linejoin="miter" stroke-linecap="butt"/>
<path d="M470.00,608.80 L457.00,608.80 L457.00,579.20 L568.80,579.20 L568.80,621.10" fill="none" stroke="#f4b00a" stroke-width="1.7" stroke-linejoin="miter" stroke-linecap="butt"/>
<rect x="469.30" y="593.00" width="66.9" height="57.6" rx="5" fill="#2a2a2a"/>
<rect x="474.80" y="599.20" width="55.2" height="45.2" fill="#343434"/>
<rect x="478.70" y="602.90" width="48.8" height="38.3" rx="6.5" fill="#262626" stroke="#fafafa" stroke-width="1.7" stroke-dasharray="2 2.2"/>
<rect x="495.08" y="612.50" width="15.43" height="22.60" rx="7.72" ry="9.04" fill="none" stroke="#fafafa" stroke-width="3.0"/>
<path d="M496.63,627.13 L508.97,618.42" stroke="#fafafa" stroke-width="2.70"/>
<circle cx="550.60" cy="623.60" r="12.3" fill="none" stroke="#fafafa" stroke-width="1.3"/>
<path d="M536.20,621.10 L543.80,621.10 L547.60,626.60" fill="none" stroke="#ec2008" stroke-width="1.7" stroke-linejoin="miter" stroke-linecap="butt"/>
<path d="M544.10,626.80 L557.10,626.80" fill="none" stroke="#ec2008" stroke-width="1.7" stroke-linejoin="miter" stroke-linecap="butt"/>
<path d="M553.60,626.60 L557.40,621.10 L568.80,621.10" fill="none" stroke="#ec2008" stroke-width="1.7" stroke-linejoin="miter" stroke-linecap="butt"/>
<circle cx="333.00" cy="556.80" r="4.3" fill="#ff1d00"/>
<circle cx="387.60" cy="539.20" r="4.3" fill="#ff1d00"/>
<circle cx="344.20" cy="593.30" r="4.3" fill="#ffb900"/>
<circle cx="361.60" cy="630.80" r="4.3" fill="#ffb900"/>
<circle cx="378.50" cy="659.60" r="4.3" fill="#ff1d00"/>
<path d="M398.90,546.10 H405.80 A6.9,6.9 0 0 1 405.80,559.90 H398.90 Z" fill="#000" stroke="#dadada" stroke-width="1.6"/>
<path d="M427.20,619.50 H434.10 A6.9,6.9 0 0 1 434.10,633.30 H427.20 Z" fill="#000" stroke="#dadada" stroke-width="1.6"/>
<path d="M427.20,649.20 H434.10 A6.9,6.9 0 0 1 434.10,663.00 H427.20 Z" fill="#000" stroke="#dadada" stroke-width="1.6"/>
<path d="M640.60,539.40 L640.60,550.40 L651.90,550.40" fill="none" stroke="#ec2008" stroke-width="1.7" stroke-linejoin="miter" stroke-linecap="butt"/>
<path d="M586.00,557.00 L651.90,557.00" fill="none" stroke="#f4b00a" stroke-width="1.7" stroke-linejoin="miter" stroke-linecap="butt"/>
<path d="M665.80,553.00 L674.00,553.00 L674.00,651.70 L680.20,651.70" fill="none" stroke="#ec2008" stroke-width="1.7" stroke-linejoin="miter" stroke-linecap="butt"/>
<path d="M674.00,622.50 L680.20,622.50" fill="none" stroke="#ec2008" stroke-width="1.7" stroke-linejoin="miter" stroke-linecap="butt"/>
<path d="M615.00,631.00 L680.20,631.00" fill="none" stroke="#f4b00a" stroke-width="1.7" stroke-linejoin="miter" stroke-linecap="butt"/>
<path d="M631.00,659.80 L680.20,659.80" fill="none" stroke="#ec2008" stroke-width="1.7" stroke-linejoin="miter" stroke-linecap="butt"/>
<path d="M694.70,626.70 L723.00,626.70" fill="none" stroke="#ec2008" stroke-width="1.7" stroke-linejoin="miter" stroke-linecap="butt"/>
<path d="M694.70,656.40 L803.60,656.40 L803.60,627.00" fill="none" stroke="#ec2008" stroke-width="1.7" stroke-linejoin="miter" stroke-linecap="butt"/>
<path d="M597.40,593.50 L710.00,593.50" fill="none" stroke="#f4b00a" stroke-width="1.7" stroke-linejoin="miter" stroke-linecap="butt"/>
<path d="M723.00,609.00 L710.00,609.00 L710.00,579.40 L821.80,579.40 L821.80,621.30" fill="none" stroke="#f4b00a" stroke-width="1.7" stroke-linejoin="miter" stroke-linecap="butt"/>
<rect x="722.30" y="593.20" width="66.9" height="57.6" rx="5" fill="#2a2a2a"/>
<rect x="727.80" y="599.40" width="55.2" height="45.2" fill="#343434"/>
<rect x="731.70" y="603.10" width="48.8" height="38.3" rx="6.5" fill="#262626" stroke="#fafafa" stroke-width="1.7" stroke-dasharray="2 2.2"/>
<rect x="748.08" y="612.70" width="15.43" height="22.60" rx="7.72" ry="9.04" fill="none" stroke="#fafafa" stroke-width="3.0"/>
<path d="M749.63,627.33 L761.97,618.62" stroke="#fafafa" stroke-width="2.70"/>
<circle cx="803.60" cy="623.80" r="12.3" fill="none" stroke="#fafafa" stroke-width="1.3"/>
<path d="M789.20,621.30 L796.80,621.30 L800.60,626.80" fill="none" stroke="#ec2008" stroke-width="1.7" stroke-linejoin="miter" stroke-linecap="butt"/>
<path d="M797.10,627.00 L810.10,627.00" fill="none" stroke="#ec2008" stroke-width="1.7" stroke-linejoin="miter" stroke-linecap="butt"/>
<path d="M806.60,626.80 L810.40,621.30 L821.80,621.30" fill="none" stroke="#ec2008" stroke-width="1.7" stroke-linejoin="miter" stroke-linecap="butt"/>
<circle cx="586.00" cy="557.00" r="4.3" fill="#ffb900"/>
<circle cx="640.60" cy="539.40" r="4.3" fill="#ff1d00"/>
<circle cx="597.40" cy="593.50" r="4.3" fill="#ffb900"/>
<circle cx="615.00" cy="631.00" r="4.3" fill="#ffb900"/>
<circle cx="631.00" cy="659.80" r="4.3" fill="#ff1d00"/>
<path d="M651.90,546.30 H658.80 A6.9,6.9 0 0 1 658.80,560.10 H651.90 Z" fill="#000" stroke="#dadada" stroke-width="1.6"/>
<path d="M680.20,619.70 H687.10 A6.9,6.9 0 0 1 687.10,633.50 H680.20 Z" fill="#000" stroke="#dadada" stroke-width="1.6"/>
<path d="M680.20,649.40 H687.10 A6.9,6.9 0 0 1 687.10,663.20 H680.20 Z" fill="#000" stroke="#dadada" stroke-width="1.6"/>
<path d="M883.70,538.50 L883.70,549.50 L895.00,549.50" fill="none" stroke="#ec2008" stroke-width="1.7" stroke-linejoin="miter" stroke-linecap="butt"/>
<path d="M829.10,556.10 L895.00,556.10" fill="none" stroke="#ec2008" stroke-width="1.7" stroke-linejoin="miter" stroke-linecap="butt"/>
<path d="M908.90,552.10 L917.10,552.10 L917.10,650.80 L923.30,650.80" fill="none" stroke="#ec2008" stroke-width="1.7" stroke-linejoin="miter" stroke-linecap="butt"/>
<path d="M917.10,621.60 L923.30,621.60" fill="none" stroke="#ec2008" stroke-width="1.7" stroke-linejoin="miter" stroke-linecap="butt"/>
<path d="M855.30,630.10 L923.30,630.10" fill="none" stroke="#f4b00a" stroke-width="1.7" stroke-linejoin="miter" stroke-linecap="butt"/>
<path d="M874.60,658.90 L923.30,658.90" fill="none" stroke="#ec2008" stroke-width="1.7" stroke-linejoin="miter" stroke-linecap="butt"/>
<path d="M937.80,625.80 L966.10,625.80" fill="none" stroke="#ec2008" stroke-width="1.7" stroke-linejoin="miter" stroke-linecap="butt"/>
<path d="M937.80,655.50 L1046.70,655.50 L1046.70,626.10" fill="none" stroke="#ec2008" stroke-width="1.7" stroke-linejoin="miter" stroke-linecap="butt"/>
<path d="M840.10,592.60 L953.10,592.60" fill="none" stroke="#f4b00a" stroke-width="1.7" stroke-linejoin="miter" stroke-linecap="butt"/>
<path d="M966.10,608.10 L953.10,608.10 L953.10,578.50 L1064.90,578.50 L1064.90,620.40" fill="none" stroke="#f4b00a" stroke-width="1.7" stroke-linejoin="miter" stroke-linecap="butt"/>
<rect x="965.40" y="592.30" width="66.9" height="57.6" rx="5" fill="#2a2a2a"/>
<rect x="970.90" y="598.50" width="55.2" height="45.2" fill="#343434"/>
<rect x="974.80" y="602.20" width="48.8" height="38.3" rx="6.5" fill="#262626" stroke="#fafafa" stroke-width="1.7" stroke-dasharray="2 2.2"/>
<rect x="991.18" y="611.80" width="15.43" height="22.60" rx="7.72" ry="9.04" fill="none" stroke="#fafafa" stroke-width="3.0"/>
<path d="M992.73,626.43 L1005.07,617.72" stroke="#fafafa" stroke-width="2.70"/>
<circle cx="1046.70" cy="622.90" r="12.3" fill="none" stroke="#fafafa" stroke-width="1.3"/>
<path d="M1032.30,620.40 L1039.90,620.40 L1043.70,625.90" fill="none" stroke="#ec2008" stroke-width="1.7" stroke-linejoin="miter" stroke-linecap="butt"/>
<path d="M1040.20,626.10 L1053.20,626.10" fill="none" stroke="#ec2008" stroke-width="1.7" stroke-linejoin="miter" stroke-linecap="butt"/>
<path d="M1049.70,625.90 L1053.50,620.40 L1064.90,620.40" fill="none" stroke="#ec2008" stroke-width="1.7" stroke-linejoin="miter" stroke-linecap="butt"/>
<circle cx="829.10" cy="556.10" r="4.3" fill="#ff1d00"/>
<circle cx="883.70" cy="538.50" r="4.3" fill="#ff1d00"/>
<circle cx="840.10" cy="592.60" r="4.3" fill="#ffb900"/>
<circle cx="855.30" cy="630.10" r="4.3" fill="#ffb900"/>
<circle cx="874.60" cy="658.90" r="4.3" fill="#ff1d00"/>
<path d="M895.00,545.40 H901.90 A6.9,6.9 0 0 1 901.90,559.20 H895.00 Z" fill="#000" stroke="#dadada" stroke-width="1.6"/>
<path d="M923.30,618.80 H930.20 A6.9,6.9 0 0 1 930.20,632.60 H923.30 Z" fill="#000" stroke="#dadada" stroke-width="1.6"/>
<path d="M923.30,648.50 H930.20 A6.9,6.9 0 0 1 930.20,662.30 H923.30 Z" fill="#000" stroke="#dadada" stroke-width="1.6"/>
<path d="M1132.10,537.80 L1132.10,548.80 L1143.40,548.80" fill="none" stroke="#ec2008" stroke-width="1.7" stroke-linejoin="miter" stroke-linecap="butt"/>
<path d="M1077.50,555.40 L1143.40,555.40" fill="none" stroke="#ec2008" stroke-width="1.7" stroke-linejoin="miter" stroke-linecap="butt"/>
<path d="M1157.30,551.40 L1165.50,551.40 L1165.50,650.10 L1171.70,650.10" fill="none" stroke="#ec2008" stroke-width="1.7" stroke-linejoin="miter" stroke-linecap="butt"/>
<path d="M1165.50,620.90 L1171.70,620.90" fill="none" stroke="#ec2008" stroke-width="1.7" stroke-linejoin="miter" stroke-linecap="butt"/>
<path d="M1105.80,629.40 L1171.70,629.40" fill="none" stroke="#f4b00a" stroke-width="1.7" stroke-linejoin="miter" stroke-linecap="butt"/>
<path d="M1123.50,658.20 L1171.70,658.20" fill="none" stroke="#ec2008" stroke-width="1.7" stroke-linejoin="miter" stroke-linecap="butt"/>
<path d="M1186.20,625.10 L1214.50,625.10" fill="none" stroke="#ec2008" stroke-width="1.7" stroke-linejoin="miter" stroke-linecap="butt"/>
<path d="M1186.20,654.80 L1295.10,654.80 L1295.10,625.40" fill="none" stroke="#ec2008" stroke-width="1.7" stroke-linejoin="miter" stroke-linecap="butt"/>
<path d="M1088.00,591.90 L1201.50,591.90" fill="none" stroke="#f4b00a" stroke-width="1.7" stroke-linejoin="miter" stroke-linecap="butt"/>
<path d="M1214.50,607.40 L1201.50,607.40 L1201.50,577.80 L1313.30,577.80 L1313.30,619.70" fill="none" stroke="#f4b00a" stroke-width="1.7" stroke-linejoin="miter" stroke-linecap="butt"/>
<rect x="1213.80" y="591.60" width="66.9" height="57.6" rx="5" fill="#2a2a2a"/>
<rect x="1219.30" y="597.80" width="55.2" height="45.2" fill="#343434"/>
<rect x="1223.20" y="601.50" width="48.8" height="38.3" rx="6.5" fill="#262626" stroke="#fafafa" stroke-width="1.7" stroke-dasharray="2 2.2"/>
<rect x="1239.58" y="611.10" width="15.43" height="22.60" rx="7.72" ry="9.04" fill="none" stroke="#fafafa" stroke-width="3.0"/>
<path d="M1241.13,625.73 L1253.47,617.02" stroke="#fafafa" stroke-width="2.70"/>
<circle cx="1295.10" cy="622.20" r="12.3" fill="none" stroke="#fafafa" stroke-width="1.3"/>
<path d="M1280.70,619.70 L1288.30,619.70 L1292.10,625.20" fill="none" stroke="#ec2008" stroke-width="1.7" stroke-linejoin="miter" stroke-linecap="butt"/>
<path d="M1288.60,625.40 L1301.60,625.40" fill="none" stroke="#ec2008" stroke-width="1.7" stroke-linejoin="miter" stroke-linecap="butt"/>
<path d="M1298.10,625.20 L1301.90,619.70 L1313.30,619.70" fill="none" stroke="#ec2008" stroke-width="1.7" stroke-linejoin="miter" stroke-linecap="butt"/>
<circle cx="1077.50" cy="555.40" r="4.3" fill="#ff1d00"/>
<circle cx="1132.10" cy="537.80" r="4.3" fill="#ff1d00"/>
<circle cx="1088.00" cy="591.90" r="4.3" fill="#ffb900"/>
<circle cx="1105.80" cy="629.40" r="4.3" fill="#ffb900"/>
<circle cx="1123.50" cy="658.20" r="4.3" fill="#ff1d00"/>
<path d="M1143.40,544.70 H1150.30 A6.9,6.9 0 0 1 1150.30,558.50 H1143.40 Z" fill="#000" stroke="#dadada" stroke-width="1.6"/>
<path d="M1171.70,618.10 H1178.60 A6.9,6.9 0 0 1 1178.60,631.90 H1171.70 Z" fill="#000" stroke="#dadada" stroke-width="1.6"/>
<path d="M1171.70,647.80 H1178.60 A6.9,6.9 0 0 1 1178.60,661.60 H1171.70 Z" fill="#000" stroke="#dadada" stroke-width="1.6"/>
<rect x="308" y="4.4" width="796" height="46.5" rx="8" fill="#2a2a2a"/>
<rect x="316.7" y="11.9" width="781" height="31.5" rx="2" fill="#3a3a3a"/>
<text x="706.8" y="35.6" text-anchor="middle" font-family="Liberation Sans, sans-serif" font-weight="bold" font-size="23" fill="#fafafa">BINARY DECODER</text>
<rect x="236.2" y="66.2" width="50.7" height="538" rx="9" fill="#282828"/>
<rect x="243.8" y="74.1" width="35.5" height="522.9" rx="3" fill="#3a3a3a"/>
<text x="261.5" y="150.60" text-anchor="middle" font-family="Liberation Sans, sans-serif" font-weight="bold" font-size="23.5" fill="#fafafa">B</text>
<text x="261.5" y="180.50" text-anchor="middle" font-family="Liberation Sans, sans-serif" font-weight="bold" font-size="23.5" fill="#fafafa">I</text>
<text x="261.5" y="210.40" text-anchor="middle" font-family="Liberation Sans, sans-serif" font-weight="bold" font-size="23.5" fill="#fafafa">N</text>
<text x="261.5" y="240.30" text-anchor="middle" font-family="Liberation Sans, sans-serif" font-weight="bold" font-size="23.5" fill="#fafafa">A</text>
<text x="261.5" y="270.20" text-anchor="middle" font-family="Liberation Sans, sans-serif" font-weight="bold" font-size="23.5" fill="#fafafa">R</text>
<text x="261.5" y="300.10" text-anchor="middle" font-family="Liberation Sans, sans-serif" font-weight="bold" font-size="23.5" fill="#fafafa">Y</text>
<text x="261.5" y="359.90" text-anchor="middle" font-family="Liberation Sans, sans-serif" font-weight="bold" font-size="23.5" fill="#fafafa">D</text>
<text x="261.5" y="389.80" text-anchor="middle" font-family="Liberation Sans, sans-serif" font-weight="bold" font-size="23.5" fill="#fafafa">E</text>
<text x="261.5" y="419.70" text-anchor="middle" font-family="Liberation Sans, sans-serif" font-weight="bold" font-size="23.5" fill="#fafafa">C</text>
<text x="261.5" y="449.60" text-anchor="middle" font-family="Liberation Sans, sans-serif" font-weight="bold" font-size="23.5" fill="#fafafa">O</text>
<text x="261.5" y="479.50" text-anchor="middle" font-family="Liberation Sans, sans-serif" font-weight="bold" font-size="23.5" fill="#fafafa">D</text>
<text x="261.5" y="509.40" text-anchor="middle" font-family="Liberation Sans, sans-serif" font-weight="bold" font-size="23.5" fill="#fafafa">E</text>
<text x="261.5" y="539.30" text-anchor="middle" font-family="Liberation Sans, sans-serif" font-weight="bold" font-size="23.5" fill="#fafafa">R</text>
<text x="340.40" y="63.80" font-family="Liberation Mono, monospace" font-size="11.6" fill="#d8d8d8">Out_3</text>
<text x="593.40" y="63.80" font-family="Liberation Mono, monospace" font-size="11.6" fill="#d8d8d8">Out_2</text>
<text x="836.50" y="63.80" font-family="Liberation Mono, monospace" font-size="11.6" fill="#d8d8d8">Out_1</text>
<text x="1084.90" y="63.80" font-family="Liberation Mono, monospace" font-size="11.6" fill="#d8d8d8">Out_0</text>
<text x="289.60" y="96.00" font-family="Liberation Mono, monospace" font-size="11.6" fill="#d8d8d8">Out_0</text>
<text x="289.60" y="250.40" font-family="Liberation Mono, monospace" font-size="11.6" fill="#d8d8d8">Out_1</text>
<text x="289.60" y="400.50" font-family="Liberation Mono, monospace" font-size="11.6" fill="#d8d8d8">Out_2</text>
<text x="289.60" y="592.20" font-family="Liberation Mono, monospace" font-size="11.6" fill="#d8d8d8">Out_3</text>
<path d="M55.83,205.10 H78.58" stroke="#fafafa" stroke-width="4.75"/>
<path d="M68.25,172.45 V204.95" stroke="#fafafa" stroke-width="5.00"/>
<path d="M70.75,172.45 L65.75,172.45 L54.25,177.17 L55.65,181.92 L65.75,177.95 Z" fill="#fafafa"/>
<rect x="86.31" y="173.65" width="21.29" height="32.30" rx="10.64" ry="12.92" fill="none" stroke="#fafafa" stroke-width="4.4"/>
<path d="M88.43,194.57 L105.47,182.09" stroke="#fafafa" stroke-width="3.96"/>
<rect x="116.25" y="173.65" width="21.29" height="32.30" rx="10.64" ry="12.92" fill="none" stroke="#fafafa" stroke-width="4.4"/>
<path d="M118.38,194.57 L135.42,182.09" stroke="#fafafa" stroke-width="3.96"/>
<path d="M145.68,205.10 H168.43" stroke="#fafafa" stroke-width="4.75"/>
<path d="M158.10,172.45 V204.95" stroke="#fafafa" stroke-width="5.00"/>
<path d="M160.60,172.45 L155.60,172.45 L144.10,177.17 L145.50,181.92 L155.60,177.95 Z" fill="#fafafa"/>
<path d="M37.3,205.3 V211.5 Q37.3,218 44,218 H104.5 Q110.9,218 110.9,223 V230.5 M110.9,223 Q110.9,218 117.3,218 H178 Q184.7,218 184.7,211.5 V205.3" fill="none" stroke="#fafafa" stroke-width="1.7"/>
<text x="109" y="254.7" text-anchor="middle" font-family="Liberation Sans, sans-serif" font-weight="bold" font-size="23" fill="#fafafa" stroke="#fafafa" stroke-width="0.5">Address</text>
<rect x="10.89" y="554.70" width="22.02" height="33.60" rx="11.01" ry="13.44" fill="none" stroke="#fafafa" stroke-width="5.0"/>
<path d="M13.09,576.52 L30.71,563.39" stroke="#fafafa" stroke-width="4.50"/>
<path d="M11.65,653.87 H36.35" stroke="#fafafa" stroke-width="5.32"/>
<path d="M25.14,618.50 V653.70" stroke="#fafafa" stroke-width="5.60"/>
<path d="M27.94,618.50 L22.34,618.50 L9.94,623.63 L11.46,628.95 L22.34,624.66 Z" fill="#fafafa"/>
<path d="M11.52,730.67 H36.48" stroke="#fafafa" stroke-width="5.32"/>
<path d="M25.15,694.90 V730.50" stroke="#fafafa" stroke-width="5.60"/>
<path d="M27.95,694.90 L22.35,694.90 L9.79,700.08 L11.33,705.40 L22.35,701.06 Z" fill="#fafafa"/>
<text x="63.8" y="573.1" font-family="Liberation Sans, sans-serif" font-weight="bold" font-size="23.2" letter-spacing="0.22" fill="#fafafa" stroke="#fafafa" stroke-width="0.5">Read Enable</text>
<text x="45.3" y="641.4" font-family="Liberation Sans, sans-serif" font-weight="bold" font-size="22.8" letter-spacing="0.62" fill="#fafafa" stroke="#fafafa" stroke-width="0.5">Write Enable</text>
<text x="70" y="719.2" font-family="Liberation Sans, sans-serif" font-weight="bold" font-size="35" fill="#fafafa" stroke="#fafafa" stroke-width="0.6">D</text>
<text x="97.4" y="719.6" font-family="Liberation Sans, sans-serif" font-weight="bold" font-size="21" fill="#fafafa" stroke="#fafafa" stroke-width="0.4">in/out</text>
</svg>
</body></html>
